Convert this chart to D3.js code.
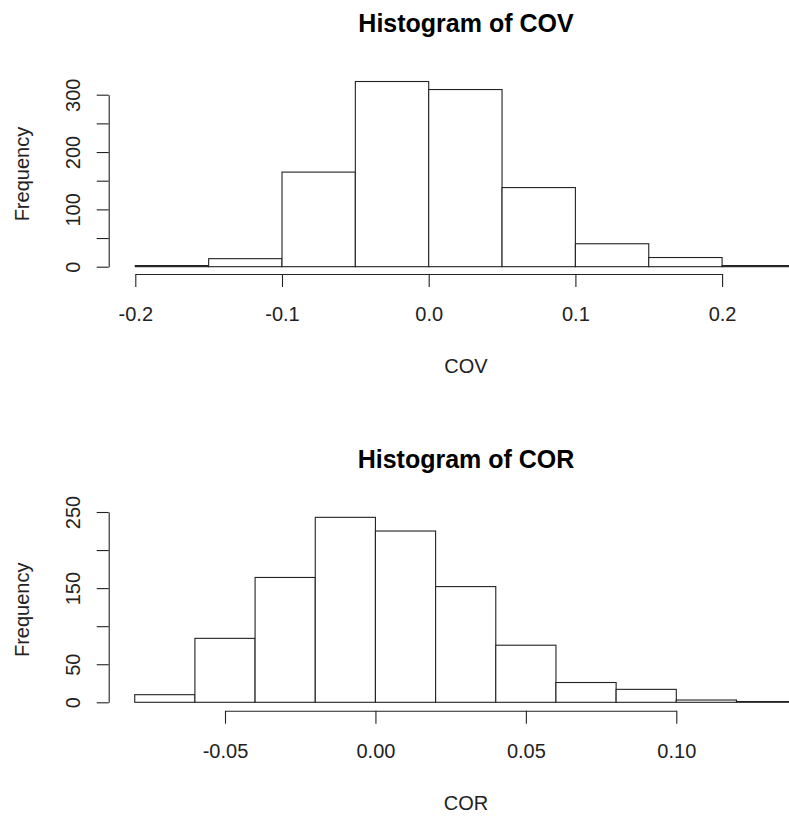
<!DOCTYPE html>
<html>
<head>
<meta charset="utf-8">
<script src="https://cdn.jsdelivr.net/npm/d3@7.9.0/dist/d3.min.js"></script>
<style>
  html, body { margin: 0; padding: 0; background: #fff; }
  svg { display: block; font-family: "Liberation Sans", Arial, sans-serif; }
</style>
</head>
<body>
<div id="chart"></div>
<script>
// COV histogram
const covBreaks = [-0.2, -0.15, -0.1, -0.05, 0.0, 0.05, 0.1, 0.15, 0.2, 0.25];
const covCounts = [2, 14, 165, 323, 309, 138, 40, 16, 2];
const covXTicks = [-0.2, -0.1, 0.0, 0.1, 0.2];
const covYTicks = [0, 50, 100, 150, 200, 250, 300];
const covYLabels = [0, 100, 200, 300];

// COR histogram
const corBreaks = [-0.08, -0.06, -0.04, -0.02, 0.0, 0.02, 0.04, 0.06, 0.08, 0.10, 0.12, 0.14];
const corCounts = [10, 84, 164, 243, 225, 152, 75, 26, 17, 3, 1];
const corXTicks = [-0.05, 0.0, 0.05, 0.10];
const corYTicks = [0, 50, 100, 150, 200, 250];
const corYLabels = [0, 50, 150, 250];

const width = 789;
const height = 817;

const svg = d3.select('#chart')
  .append('svg')
  .attr('width', width)
  .attr('height', height);

svg.append('rect')
  .attr('width', width)
  .attr('height', height)
  .attr('fill', '#fff');

const panels = [
  {
    title: 'Histogram of COV', xlab: 'COV',
    breaks: covBreaks, counts: covCounts,
    xTicks: covXTicks, yTicks: covYTicks, yLabels: covYLabels,
    digits: 1,
    x: d3.scaleLinear().domain([-0.2, 0.2]).range([135.3, 722.1]),
    y: d3.scaleLinear().domain([0, 300]).range([266.7, 94.7]),
    axisY: 274, titleY: 31.7
  },
  {
    title: 'Histogram of COR', xlab: 'COR',
    breaks: corBreaks, counts: corCounts,
    xTicks: corXTicks, yTicks: corYTicks, yLabels: corYLabels,
    digits: 2,
    x: d3.scaleLinear().domain([-0.05, 0.10]).range([225, 676.3]),
    y: d3.scaleLinear().domain([0, 250]).range([702.3, 512]),
    axisY: 710.7, titleY: 468.4
  }
];

const axisX = 108.7;
const centerX = 466;
const ink = '#222';

panels.forEach(p => {
  const bins = p.counts.map((c, i) => ({ x0: p.breaks[i], x1: p.breaks[i + 1], count: c }));
  const g = svg.append('g');

  // bars
  g.selectAll('rect.bar')
    .data(bins)
    .join('rect')
    .attr('class', 'bar')
    .attr('x', d => p.x(d.x0))
    .attr('y', d => p.y(d.count))
    .attr('width', d => p.x(d.x1) - p.x(d.x0))
    .attr('height', d => p.y(0) - p.y(d.count))
    .attr('fill', '#fff')
    .attr('stroke', ink)
    .attr('stroke-width', 1.1);

  // x axis, only spanning the first to last tick like R
  const first = p.xTicks[0], last = p.xTicks[p.xTicks.length - 1];
  const xAxisScale = p.x.copy().domain([first, last]).range([p.x(first), p.x(last)]);
  const xg = g.append('g')
    .attr('transform', `translate(0, ${p.axisY})`)
    .call(d3.axisBottom(xAxisScale)
      .tickValues(p.xTicks)
      .tickSize(13)
      .tickSizeOuter(0)
      .tickFormat(d => d.toFixed(p.digits)));
  xg.selectAll('path, line').attr('stroke', ink).attr('stroke-width', 1.1);
  xg.selectAll('text')
    .attr('y', 47)
    .attr('dy', 0)
    .attr('font-size', 20)
    .attr('font-family', '"Liberation Sans", Arial, sans-serif')
    .attr('fill', ink);

  // y axis, labels parallel to the axis
  const y0 = p.yTicks[0], y1 = p.yTicks[p.yTicks.length - 1];
  const yAxisScale = p.y.copy().domain([y0, y1]).range([p.y(y0), p.y(y1)]);
  const yg = g.append('g')
    .attr('transform', `translate(${axisX}, 0)`)
    .call(d3.axisLeft(yAxisScale)
      .tickValues(p.yTicks)
      .tickSize(12)
      .tickSizeOuter(0)
      .tickFormat(d => p.yLabels.includes(d) ? String(d) : ''));
  yg.selectAll('path, line').attr('stroke', ink).attr('stroke-width', 1.1);
  yg.selectAll('text')
    .attr('transform', 'rotate(-90)')
    .attr('x', 0)
    .attr('y', -28.7)
    .attr('dy', 0)
    .attr('text-anchor', 'middle')
    .attr('font-size', 20)
    .attr('font-family', '"Liberation Sans", Arial, sans-serif')
    .attr('fill', ink);

  // title
  g.append('text')
    .attr('x', centerX)
    .attr('y', p.titleY)
    .attr('text-anchor', 'middle')
    .attr('font-size', 25)
    .attr('font-weight', 'bold')
    .attr('fill', '#000')
    .text(p.title);

  // x label
  g.append('text')
    .attr('x', centerX)
    .attr('y', p.axisY + 99)
    .attr('text-anchor', 'middle')
    .attr('font-size', 20)
    .attr('fill', ink)
    .text(p.xlab);

  // y label, centred on the plot region
  const midY = p.y(d3.max(p.counts) / 2);
  g.append('text')
    .attr('transform', `translate(29.3, ${midY}) rotate(-90)`)
    .attr('text-anchor', 'middle')
    .attr('font-size', 20)
    .attr('fill', ink)
    .text('Frequency');
});
</script>
</body>
</html>
